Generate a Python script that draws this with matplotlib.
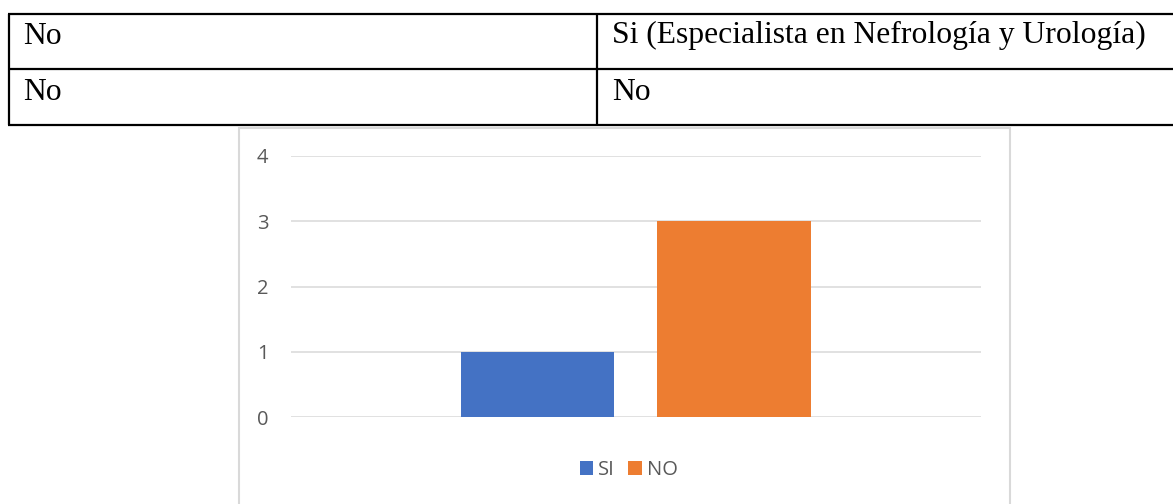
import matplotlib
matplotlib.use("Agg")
import matplotlib.pyplot as plt
from matplotlib.patches import Rectangle

# Table content
table_rows = [
    ["No", "Si (Especialista en Nefrología y Urología)"],
    ["No", "No"],
]

# Chart data
series = ["SI", "NO"]
values = [1, 3]
colors = ["#4472C4", "#ED7D31"]
y_ticks = [0, 1, 2, 3, 4]

W, H = 1173, 504
fig = plt.figure(figsize=(W / 100, H / 100), dpi=100)
fig.patch.set_facecolor("white")

# Page layer in pixel units (origin top-left)
page = fig.add_axes([0, 0, 1, 1], zorder=0)
page.set_xlim(0, W)
page.set_ylim(H, 0)
page.axis("off")

# Table grid
line_kw = dict(color="black", lw=1.6, solid_capstyle="butt")
row_edges = [13.5, 69, 125]
for y in row_edges:
    page.plot([8, W + 5], [y, y], **line_kw)
page.plot([9, 9], [row_edges[0], row_edges[-1]], **line_kw)
page.plot([597, 597], [row_edges[0], row_edges[-1]], **line_kw)

col_x = [23, 612]
baselines = [43.5, 100]
for r, row in enumerate(table_rows):
    for c, txt in enumerate(row):
        page.text(col_x[c], baselines[r], txt, family="Liberation Serif",
                  fontsize=22.8, color="black", va="baseline", ha="left")

# Chart frame
page.add_patch(Rectangle((239, 127.5), 771, 400, facecolor="white",
                         edgecolor="#D9D9D9", lw=1.5, zorder=1))

# Chart axes
left, right = 290.7, 981
y0_px, y4_px = 417.3, 155.7
ax = fig.add_axes([left / W, (H - y0_px) / H, (right - left) / W,
                   (y0_px - y4_px) / H], zorder=2)
ax.patch.set_alpha(0)

width = 0.223
offsets = [-0.1425, 0.1425]
bars = []
for name, val, col, off in zip(series, values, colors, offsets):
    b = ax.bar(off, val, width=width, color=col, label=name, zorder=3)
    bars.append(b)

ax.set_xlim(-0.5, 0.5)
ax.set_ylim(0, 4)
ax.set_yticks(y_ticks)
ax.set_yticklabels([str(t) for t in y_ticks])
ax.set_xticks([])
for s in ax.spines.values():
    s.set_visible(False)
ax.yaxis.grid(True, color="#D9D9D9", lw=1.1)
ax.set_axisbelow(True)
ax.tick_params(axis="y", length=0, pad=16, labelsize=14.5, labelcolor="#595959")
for lbl in ax.get_yticklabels():
    lbl.set_family("Open Sans")

fig.legend(handles=[b[0] for b in bars], labels=series, loc="center",
           bbox_to_anchor=(628.5 / W, (H - 470) / H), ncol=2, frameon=False,
           prop={"family": "Open Sans", "size": 14.5}, labelcolor="#595959",
           handlelength=0.65, handleheight=0.65, handletextpad=0.25,
           columnspacing=0.7)

fig.savefig("out.png", dpi=100, facecolor="white")
